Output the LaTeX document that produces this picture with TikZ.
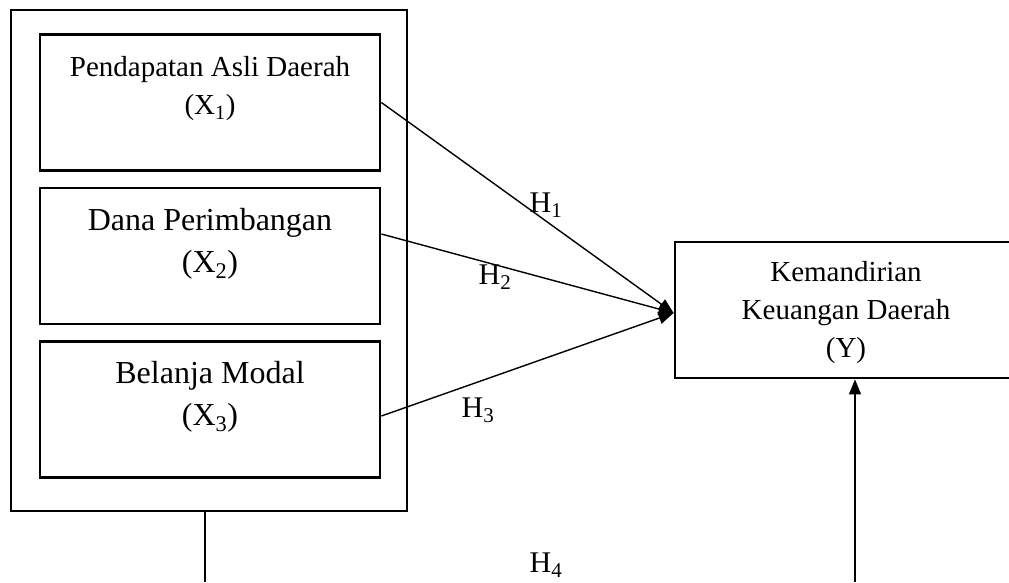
\documentclass[tikz,border=0pt]{standalone}
\usepackage{fontspec}
\setmainfont{Liberation Serif}
\usetikzlibrary{arrows.meta}

\begin{document}
\begin{tikzpicture}[x=1pt,y=-1pt,
    boxline/.style={draw,line width=2.8pt,inner sep=0pt},
    varbox/.style={boxline,minimum width=340pt,minimum height=136pt},
    smalltext/.style={align=center,inner sep=0pt,font=\fontsize{29pt}{38pt}\selectfont},
    bigtext/.style={align=center,inner sep=0pt,font=\fontsize{32pt}{42pt}\selectfont},
    hlab/.style={inner sep=0pt,font=\fontsize{30pt}{36pt}\selectfont},
    link/.style={line width=1.4pt,-{Triangle[length=15pt,width=12pt]}}]
    \useasboundingbox (0,0) rectangle (1009,582);

    % Independent variables
    \node[boxline,minimum width=396pt,minimum height=501pt] (outer) at (209,260.5) {};
    \node[varbox] (b1) at (210,102.5) {};
    \node[varbox] (b2) at (210,256) {};
    \node[varbox] (b3) at (210,409.5) {};
    \node[smalltext] (t1) at (210,89) {Pendapatan Asli Daerah\\(X\textsubscript{1})};
    \node[bigtext] (t2) at (210,243.5) {Dana Perimbangan\\(X\textsubscript{2})};
    \node[bigtext] (t3) at (210,396.5) {Belanja Modal\\(X\textsubscript{3})};

    % Dependent variable
    \node[boxline,minimum width=342pt,minimum height=136pt] (kkd) at (846,310) {};
    \node[smalltext] (ty) at (846,313) {Kemandirian\\Keuangan Daerah\\(Y)};

    % Hypotheses
    \draw[link] (b1.east) -- ([yshift=-3pt]kkd.west);
    \draw[link] ([yshift=22pt]b2.east) -- ([yshift=-3pt]kkd.west);
    \draw[link] ([yshift=-6.5pt]b3.east) -- ([yshift=-3pt]kkd.west);
    \node[hlab] (h1) at (546,205) {H\textsubscript{1}};
    \node[hlab] (h2) at (495,277) {H\textsubscript{2}};
    \node[hlab] (h3) at (478,410) {H\textsubscript{3}};
    \node[hlab] (h4) at (546,565) {H\textsubscript{4}};

    % Simultaneous
    \coordinate (l4) at (205,582);
    \coordinate (r4) at (855,582);
    \draw[line width=1.4pt] (l4 |- outer.south) -- (l4);
    \draw[link] (r4) -- (r4 |- kkd.south);
\end{tikzpicture}
\end{document}
